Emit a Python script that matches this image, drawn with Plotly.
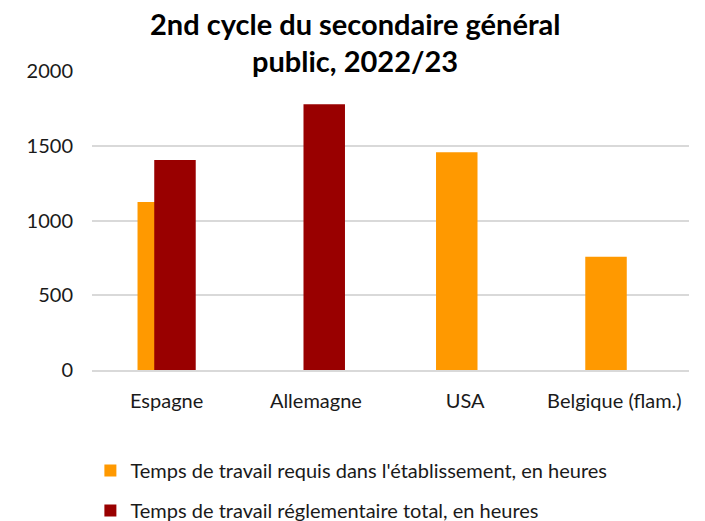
import plotly.graph_objects as go

categories = ["Espagne", "Allemagne", "USA", "Belgique (flam.)"]
requis = [1124, None, 1456, 757]
reglementaire = [1405, 1777, None, None]
series_names = ["Temps de travail requis dans l'établissement, en heures",
                "Temps de travail réglementaire total, en heures"]
y_ticks = [0, 500, 1000, 1500, 2000]
title_lines = ["2nd cycle du secondaire général", "public, 2022/23"]

FONT = "Lato"
TXT = "#1a1a1a"
W = 0.278

fig = go.Figure()
fig.add_trace(go.Bar(x=categories, y=requis, name=series_names[0],
                     marker=dict(color="#FF9900", line=dict(width=0)),
                     width=W, offset=-0.195, legendgroup="a"))
fig.add_trace(go.Bar(x=categories, y=reglementaire, name=series_names[1],
                     marker=dict(color="#990000", line=dict(width=0)),
                     width=W, offset=-0.083, legendgroup="b"))

# page body adds an 8px offset; margins compensate
fig.update_layout(
    width=705, height=521,
    barmode="overlay",
    paper_bgcolor="white", plot_bgcolor="white",
    margin=dict(l=83.6, r=23.8, t=62.7, b=159, pad=0, autoexpand=False),
    font=dict(family=FONT, size=20, color=TXT),
    xaxis=dict(type="category", range=[-0.5, 3.5], showgrid=False,
               showline=True, linecolor="#d9d9d9", linewidth=1.5,
               ticks="", ticklabelstandoff=12, automargin=False,
               tickfont=dict(family=FONT, size=20, color=TXT)),
    yaxis=dict(range=[0, 2000], tickvals=y_ticks, showgrid=True,
               gridcolor="#d9d9d9", gridwidth=1.5, zeroline=False,
               showline=False, ticks="", ticklabelstandoff=18, automargin=False,
               tickfont=dict(family=FONT, size=20, color=TXT)),
    legend=dict(orientation="v", x=-0.0027, xanchor="left", y=-0.2706, yanchor="top",
                xref="paper", yref="paper",
                tracegroupgap=11, traceorder="grouped",
                font=dict(family=FONT, size=20, color=TXT),
                bgcolor="rgba(0,0,0,0)"),
    showlegend=True,
)

for txt, yy in zip(title_lines, [1.159, 1.036]):
    fig.add_annotation(text="<b>" + txt + "</b>", x=0.4408, y=yy,
                       xref="paper", yref="paper", xanchor="center", yanchor="middle",
                       showarrow=False, font=dict(family=FONT, size=29, color="black"))

fig.write_html("out.html")
